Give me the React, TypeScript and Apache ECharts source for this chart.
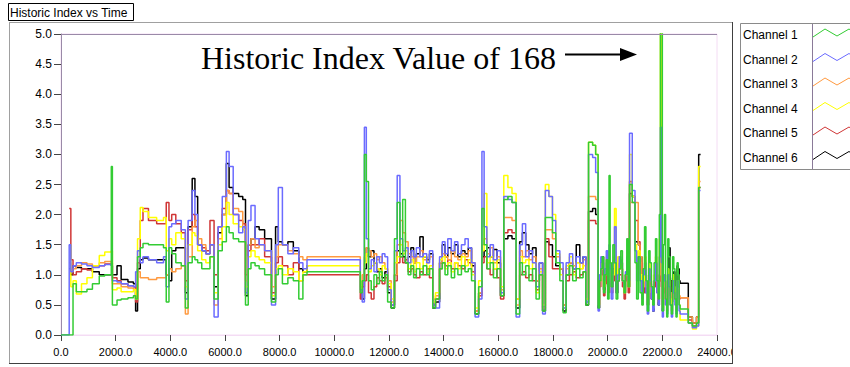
import React, { useEffect, useRef } from "react";
import * as echarts from "echarts";

// time axis (shared by all channels)
const time: number[] = [
  0, 300, 360, 440, 560, 750, 950, 1150, 1400, 1600,
  1840, 1880, 2050, 2200, 2450, 2650, 2730, 2800, 2900, 3000,
  3200, 3500, 3750, 3850, 3950, 4050, 4200, 4400, 4550, 4650,
  4800, 4900, 5000, 5150, 5300, 5450, 5600, 5750, 5900, 6050,
  6150, 6300, 6500, 6650, 6750, 6850, 6950, 7100, 7250, 7450,
  7700, 7850, 7950, 8100, 8300, 8500, 8700, 8850, 9000, 9050,
  10950, 11020, 11100, 11170, 11250, 11350, 11450, 11550, 11650, 11750,
  11850, 11950, 12080, 12200, 12300, 12400, 12500, 12600, 12700, 12800,
  12900, 13000, 13130, 13250, 13380, 13480, 13600, 13700, 13850, 13950,
  14050, 14150, 14280, 14400, 14520, 14650, 14780, 14900, 15020, 15150,
  15280, 15400, 15480, 15580, 15700, 15820, 15950, 16080, 16200, 16350,
  16500, 16650, 16780, 16880, 17000, 17120, 17250, 17380, 17500, 17620,
  17720, 17850, 17980, 18100, 18250, 18370, 18480, 18600, 18720, 18850,
  18980, 19100, 19200, 19300, 19450, 19560,
  19650, 19700, 19750, 19800, 19850, 19900, 19950, 20000, 20050, 20090,
  20130, 20190, 20250, 20310, 20370, 20425, 20480, 20540, 20600, 20650,
  20700, 20750, 20800, 20900, 21000, 21060, 21120, 21185, 21250, 21300,
  21350, 21400, 21450, 21500, 21550, 21600, 21650, 21700, 21750, 21800,
  21850, 21890, 21930, 21965, 22000, 22040, 22080, 22120, 22160, 22200,
  22240, 22285, 22330, 22375, 22420, 22460, 22500, 22540, 22580, 22615,
  22650, 22950, 23100, 23250, 23330, 23400,
];

// Channel 1 (green)
const channel1: (number | null)[] = [
  0, 0, 0, 0.85, 0.72, 0.72, 0.76, 0.85, 0.98, 1.0,
  2.8, 0.5, 0.58, 0.6, 0.62, 0.65, 0.6, 1.3, 1.45, 1.52,
  1.5, 1.5, 1.45, 0.55, 1.45, 1.35, 1.2, 1.15, 0.45, 1.2,
  1.3, 1.25, 1.2, 1.1, 1.1, 1.3, 0.6, 1.4, 1.55, 1.8,
  1.7, 1.6, 1.55, 1.55, 0.5, 1.1, 1.2, 1.15, 1.1, 1.0,
  0.55, 1.0, 1.1, 0.85, 0.95, 0.9, 0.6, 1.0, 1.05, 1.05,
  0.7, 0.9, 3.0, 2.55, 0.9, 0.75, 1.0, 0.85, 1.05, 0.9,
  1.0, 0.55, 0.45, 1.6, 2.2, 1.3, 2.25, 1.2, 1.0, 1.15,
  0.95, 1.1, 1.0, 1.15, 1.0, 1.1, 0.45, 0.6, 1.1, 1.2,
  1.0, 1.15, 0.95, 1.1, 1.0, 1.15, 1.05, 1.1, 0.9, 0.35,
  0.8, 2.1, 1.5, 1.1, 1.2, 0.95, 1.1, 0.65, 2.25, 2.3,
  2.2, 0.35, 1.2, 1.0, 1.15, 0.9, 1.1, 0.6, 1.0, 0.4,
  1.95, 1.95, 1.7, 1.2, 0.9, 0.37, 1.0, 1.15, 0.9, 1.1,
  0.95, 1.05, 0.5, 3.2, 3.15, 3.0,
  0.45, 0.9, 1.1, 1.3, 0.7, 1.0, 1.25, 0.6, 2.65, 1.2,
  0.8, 1.5, 1.2, 0.6, 0.9, 1.1, 1.4, 0.9, 0.7, 1.0,
  1.6, 0.8, 2.5, 2.2, 1.2, 0.6, 1.3, 0.7, 0.5, 1.1,
  1.8, 0.9, 0.4, 1.4, 1.2, 0.8, 0.5, 1.2, 1.6, 0.9,
  0.6, 2.0, 168, 6.5, 0.4, 1.5, 2.0, 0.6, 0.3, 1.6,
  1.3, 0.5, 0.35, 1.3, 1.1, 0.6, 0.3, 1.2, 1.0, 0.5,
  0.43, 0.2, 0.15, 0.2, 2.45, 2.45,
];

// Channel 2 (blue)
const channel2: (number | null)[] = [
  0, 1.5, 1.05, 1.15, 1.2, 1.18, 1.15, 1.12, 1.15, 1.17,
  1.15, 0.9, 0.88, 0.85, 0.82, 0.8, 1.05, 1.4, 1.2, 1.3,
  1.25, 1.2, 1.3, 0.8, 1.8, 1.85, 1.9, 1.75, 0.6, 1.9,
  2.4, 2.0, 1.5, 1.4, 1.35, 1.5, 0.3, 1.8, 2.3, 3.05,
  2.8, 2.0, 1.7, 1.8, 0.7, 1.9, 2.15, 1.6, 1.5, 1.4,
  0.5, 1.5, 2.45, 1.5, 1.35, 1.45, 1.2, 1.1, 1.25, 1.25,
  0.75, 0.55, 3.45, 1.6, 1.1, 1.25, 1.05, 1.3, 1.2, 1.35,
  1.3, 0.75, 0.5, 1.4, 2.65, 1.6, 1.4, 1.45, 1.2, 1.4,
  1.3, 1.45, 1.3, 1.35, 1.2, 1.4, 0.5, 0.45, 1.3, 1.55,
  1.35, 1.6, 1.4, 1.55, 1.35, 1.5, 1.6, 1.45, 1.2, 0.3,
  0.6, 3.05, 1.8, 1.3, 1.5, 1.25, 1.4, 0.7, 2.3, 2.25,
  2.2, 0.3, 1.5, 1.85, 1.3, 1.4, 1.2, 0.8, 1.2, 0.35,
  2.4, 2.3, 1.9, 1.4, 1.2, 0.45, 1.2, 1.35, 1.1, 1.3,
  1.2, 1.3, 0.55, 3.0, 2.95, 2.7,
  0.4, 1.0, 1.3, 1.2, 0.9, 1.1, 1.4, 0.8, 1.5, 1.1,
  0.6, 1.2, 1.8, 0.7, 1.0, 1.3, 1.2, 0.9, 0.8, 1.05,
  1.3, 0.9, 3.35, 2.4, 1.4, 0.9, 1.3, 0.9, 0.6, 1.0,
  1.2, 0.7, 0.35, 1.1, 0.9, 0.6, 0.4, 0.9, 1.2, 0.7,
  0.5, 1.3, 3.45, 1.2, 0.3, 0.9, 1.0, 0.5, 0.35, 1.0,
  0.8, 0.5, 0.3, 0.9, 0.7, 0.5, 0.35, 0.9, 0.8, 0.4,
  0.35, 0.2, 0.12, 0.15, 2.4, 2.4,
];

// Channel 3 (orange)
const channel3: (number | null)[] = [
  null, 1.2, 1.05, 1.1, 1.15, 1.2, 1.18, 1.15, 1.2, 1.22,
  1.2, 0.85, 0.85, 0.8, 0.78, 0.76, 0.6, 1.05, 0.95, 0.95,
  0.92, 0.95, 0.95, 1.0, 1.1, 1.05, 1.1, 1.15, 0.35, 1.3,
  1.8, 1.9, 1.6, 1.5, 1.35, 1.5, 0.5, 1.6, 2.0, 2.4,
  2.35, 2.1, 2.05, 1.8, 0.9, 1.5, 1.6, 1.45, 1.5, 1.4,
  0.8, 1.3, 1.5, 1.5, 1.4, 1.35, 1.3, 1.25, 1.3, 1.3,
  0.8, 1.0, 1.3, 1.45, 1.4, 1.3, 1.35, 1.25, 1.3, 1.2,
  1.1, 0.9, 0.55, 1.0, 1.5, 1.9, 1.7, 1.55, 1.35, 1.3,
  1.2, 1.3, 1.4, 1.25, 1.2, 1.3, 0.6, 0.65, 1.2, 1.35,
  1.3, 1.25, 1.4, 1.3, 1.25, 1.35, 1.3, 1.4, 1.2, 0.4,
  0.7, 1.5, 1.6, 1.35, 1.45, 1.2, 1.3, 0.75, 1.95, 1.95,
  1.9, 0.5, 1.4, 1.3, 1.4, 1.25, 1.3, 0.9, 1.1, 0.45,
  1.75, 1.75, 1.6, 1.3, 1.1, 0.5, 1.1, 1.2, 1.15, 1.2,
  1.1, 1.25, 0.6, 2.3, 2.3, 2.25,
  0.5, 0.9, 1.2, 1.1, 0.8, 1.0, 1.2, 0.9, 1.3, 1.1,
  0.9, 1.0, 1.3, 0.9, 1.1, 1.2, 1.2, 0.9, 0.8, 1.0,
  1.2, 0.9, 2.2, 2.2, 2.2, 2.2, 1.5, 1.3, 1.0, 0.8,
  1.0, 0.8, 0.6, 1.0, 0.9, 0.7, 0.5, 0.9, 1.1, 0.8,
  0.55, 1.0, 1.3, 0.9, 0.5, 0.8, 0.9, 0.6, 0.5, 0.8,
  0.9, 0.7, 0.6, 0.9, 0.8, 0.6, 0.5, 0.85, 0.9, 0.65,
  0.62, 0.3, 0.2, 0.3, 2.55, 2.55,
];

// Channel 4 (yellow)
const channel4: (number | null)[] = [
  null, 1.5, 0.8, 0.9, 0.68, 0.85, 0.95, 1.15, 1.32, 1.38,
  1.4, 0.75, 0.78, 0.72, 0.72, 0.75, 0.6, 1.6, 2.12, 2.05,
  1.95, 1.9, 1.95, 1.4, 1.6, 1.5, 1.7, 1.6, 0.8, 1.5,
  1.7, 1.65, 1.4, 1.25, 1.2, 1.3, 0.7, 1.5, 1.8, 2.2,
  2.0, 1.85, 1.8, 1.75, 0.8, 1.3, 1.4, 1.3, 1.25, 1.2,
  0.65, 1.1, 1.15, 1.0, 1.1, 1.05, 0.9, 1.05, 1.15, 1.15,
  0.75, 0.9, 1.2, 1.35, 1.05, 1.15, 1.2, 1.1, 1.0, 1.15,
  1.1, 0.85, 0.6, 1.2, 1.3, 1.5, 1.35, 1.4, 1.1, 1.25,
  1.05, 1.2, 1.1, 1.3, 1.05, 1.15, 0.55, 0.7, 1.25, 1.3,
  1.1, 1.2, 1.05, 1.2, 1.1, 1.3, 1.15, 1.25, 1.0, 0.45,
  0.9, 1.4, 2.35, 1.2, 1.3, 1.1, 1.25, 0.8, 2.65, 2.45,
  2.35, 0.6, 1.3, 1.2, 1.25, 1.1, 1.2, 0.7, 1.05, 0.5,
  2.5, 2.3, 2.0, 1.35, 1.0, 0.45, 1.15, 1.3, 1.0, 1.2,
  1.1, 1.15, 0.6, 3.2, 3.15, 3.0,
  0.5, 0.9, 1.2, 1.1, 0.8, 1.1, 1.3, 0.8, 1.4, 1.2,
  0.75, 1.0, 2.1, 0.9, 1.3, 1.2, 1.1, 0.9, 0.7, 1.0,
  1.3, 0.8, 3.0, 2.3, 1.5, 1.1, 1.4, 1.0, 0.7, 0.9,
  1.3, 0.8, 0.5, 1.2, 1.0, 0.7, 0.45, 1.0, 1.3, 0.9,
  0.6, 1.6, 12, 2.0, 0.45, 1.0, 1.0, 0.6, 0.4, 1.1,
  0.9, 0.6, 0.4, 1.0, 0.8, 0.6, 0.4, 0.9, 0.85, 0.5,
  0.25, 0.2, 0.1, 0.15, 2.8, 2.8,
];

// Channel 5 (red)
const channel5: (number | null)[] = [
  null, 2.1, 1.25, 1.0, 1.05, 1.1, 1.08, 1.15, 1.15, 1.18,
  1.15, 0.95, 0.9, 0.85, 0.82, 0.8, 0.55, 1.2, 1.9, 2.1,
  1.9, 1.85, 1.85, 2.2, 1.9, 2.0, 1.85, 1.7, 0.9, 1.75,
  2.0, 1.8, 1.5, 1.45, 1.4, 1.9, 1.0, 1.8, 2.1, 2.4,
  2.35, 2.0, 1.9, 1.85, 1.0, 1.4, 1.5, 1.5, 1.6, 1.3,
  0.7, 1.2, 1.3, 1.15, 1.0, 1.2, 0.9, 1.0, 1.0, 1.0,
  0.6, 0.8, 0.9, 1.0, 0.7, 0.6, 0.8, 0.95, 0.9, 0.85,
  0.95, 0.8, 0.5, 0.9, 1.2, 1.3, 1.2, 1.25, 1.05, 1.1,
  1.0, 0.95, 1.05, 1.0, 1.1, 0.95, 0.5, 0.6, 1.1, 1.2,
  1.15, 1.25, 1.1, 1.2, 1.15, 1.1, 1.25, 1.2, 1.05, 0.4,
  0.65, 1.2, 1.3, 1.1, 1.0, 1.1, 0.95, 0.6, 1.7, 1.75,
  1.7, 0.6, 1.0, 1.05, 0.95, 1.0, 0.9, 0.75, 1.0, 0.4,
  1.6, 1.3, 1.1, 1.1, 1.1, 0.5, 0.9, 1.0, 1.05, 0.95,
  1.0, 1.05, 0.6, 1.9, 1.9, 1.85,
  0.45, 0.8, 1.1, 1.0, 0.65, 0.85, 1.0, 0.7, 1.1, 1.0,
  0.7, 0.9, 1.2, 0.7, 0.9, 1.0, 1.0, 0.8, 0.6, 0.9,
  1.0, 0.7, 2.55, 2.3, 1.9, 1.9, 1.55, 1.2, 0.9, 0.7,
  0.8, 0.7, 0.6, 0.9, 0.8, 0.6, 0.5, 0.8, 0.9, 0.7,
  0.6, 0.9, 1.0, 0.8, 0.5, 0.7, 0.8, 0.6, 0.5, 0.7,
  0.8, 0.65, 0.6, 0.8, 0.7, 0.6, 0.5, 0.7, 0.75, 0.6,
  0.62, 0.25, 0.15, 0.2, 2.45, 2.45,
];

// Channel 6 (black)
const channel6: (number | null)[] = [
  null, 1.1, 1.0, 1.15, 1.12, 1.1, 1.1, 1.05, 1.0, 1.0,
  1.0, 1.0, 1.15, 0.92, 0.88, 0.85, 0.4, 1.1, 1.25, 1.28,
  1.25, 1.25, 1.25, 1.0, 0.9, 1.4, 1.45, 1.45, 0.7, 1.8,
  2.6, 2.3, 1.5, 1.4, 1.35, 1.5, 0.8, 1.7, 2.0, 2.85,
  2.45, 2.35, 2.3, 2.25, 0.65, 1.5, 1.6, 1.8, 1.75, 1.6,
  0.6, 1.8, 1.55, 1.5, 1.55, 1.4, 1.1, 1.05, 1.15, null,
  0.7, 0.6, 1.1, 1.45, 1.3, 1.4, 1.2, 1.05, 1.1, 0.95,
  1.05, 0.7, 0.45, 1.0, 1.4, 1.35, 1.3, 1.2, 1.3, 1.45,
  1.2, 1.35, 1.63, 1.3, 1.25, 1.35, 0.45, 0.55, 1.2, 1.5,
  1.3, 1.45, 1.35, 1.5, 1.3, 1.4, 1.35, 1.45, 1.15, 0.35,
  0.7, 1.3, 1.4, 1.45, 1.3, 1.42, 1.2, 0.65, 1.6, 1.65,
  1.6, 0.45, 1.55, 1.7, 1.5, 1.35, 1.45, 0.9, 1.2, 0.4,
  1.55, 1.5, 1.3, 1.15, 1.1, 0.4, 1.0, 1.2, 1.1, 1.5,
  1.2, 1.3, 0.5, 2.05, 2.1, 2.0,
  0.45, 0.9, 1.2, 1.3, 0.75, 0.9, 1.1, 0.8, 1.2, 1.0,
  0.8, 1.1, 1.3, 0.7, 0.9, 1.25, 1.1, 0.9, 0.7, 1.0,
  1.2, 0.8, 2.35, 2.3, 1.55, 1.55, 1.5, 1.3, 1.0, 0.8,
  0.9, 0.7, 0.5, 1.0, 0.85, 0.6, 0.4, 0.9, 1.0, 0.8,
  0.5, 1.0, 1.1, 0.9, 0.4, 0.8, 0.9, 0.6, 0.5, 1.1,
  1.45, 0.9, 0.55, 0.95, 1.05, 0.7, 0.6, 1.15, 1.1, 0.9,
  0.86, 0.3, 0.2, 0.3, 3.0, 3.0,
];

const channelNames = ["Channel 1", "Channel 2", "Channel 3", "Channel 4", "Channel 5", "Channel 6"];
const channelColors = ["#33cc33", "#6b6bff", "#ff9a40", "#ffff00", "#d03636", "#000000"];
const channelData = [channel1, channel2, channel3, channel4, channel5, channel6];
// drawing order (last is on top)
const drawOrder = [5, 4, 2, 3, 1, 0];

const xTickInterval = 2000;
const xMax = 24000;
const yMax = 5;
const yTickInterval = 0.5;
const chartTitle = "Historic Index vs Time";
const annotation = "Historic Index Value of 168";

export default function App() {
  const ref = useRef<HTMLDivElement>(null);
  useEffect(() => {
    const chart = echarts.init(ref.current!, null, { renderer: "svg" });
    const pair = (arr: (number | null)[]) =>
      time.map((t, i) => [t, arr[i] === null ? "-" : arr[i]]);

    const series = drawOrder.map((ci) => ({
      type: "line",
      name: channelNames[ci],
      data: pair(channelData[ci]),
      step: "end",
      symbol: "none",
      showSymbol: false,
      connectNulls: false,
      clip: true,
      lineStyle: { width: 1.5, color: channelColors[ci] },
      itemStyle: { color: channelColors[ci] },
      emphasis: { disabled: true },
    }));

    const legendEls: any[] = [];
    channelNames.forEach((nm, i) => {
      const cy = 35 + i * 24.5;
      legendEls.push({
        type: "text",
        x: 743,
        y: cy,
        z: 110,
        style: { text: nm, font: "12px 'Liberation Sans', Arial", fill: "#000", verticalAlign: "middle" },
      });
      legendEls.push({
        type: "polyline",
        z: 110,
        shape: { points: [[813, cy + 2], [825, cy - 6], [837, cy + 1], [849, cy - 6], [852, cy - 4]] },
        style: { stroke: channelColors[i], lineWidth: 1, fill: null },
      });
    });

    chart.setOption({
      animation: false,
      backgroundColor: "#ffffff",
      grid: {
        left: 61,
        top: 34,
        width: 656,
        height: 301,
        show: true,
        borderColor: "#f4dcf4",
        borderWidth: 1,
        containLabel: false,
      },
      xAxis: {
        type: "value",
        min: 0,
        max: xMax,
        interval: xTickInterval,
        axisLine: { show: true, lineStyle: { color: "#f4dcf4", width: 1 } },
        axisTick: { show: true, length: 6, lineStyle: { color: "#444" } },
        axisLabel: {
          formatter: (v: number) => v.toFixed(1),
          fontSize: 11,
          color: "#000",
          margin: 11,
          fontFamily: "'Liberation Sans', Arial",
        },
        splitLine: { show: false },
      },
      yAxis: {
        type: "value",
        min: 0,
        max: yMax,
        interval: yTickInterval,
        axisLine: { show: true, lineStyle: { color: "#9a8aa8", width: 1 } },
        axisTick: { show: true, length: 7, lineStyle: { color: "#444" } },
        axisLabel: {
          formatter: (v: number) => v.toFixed(1),
          fontSize: 12,
          color: "#000",
          margin: 9,
          fontFamily: "'Liberation Sans', Arial",
        },
        splitLine: { show: false },
      },
      series,
      graphic: {
        elements: [
          // plot top border
          { type: "line", z: 100, shape: { x1: 61, y1: 34.5, x2: 717, y2: 34.5 }, style: { stroke: "#9a8aa8", lineWidth: 1 } },
          // mask right of panel (clips last label)
          { type: "rect", z: 100, shape: { x: 733, y: 338, width: 6, height: 28 }, style: { fill: "#fff" } },
          // panel frame
          { type: "line", z: 101, shape: { x1: 9, y1: 22.5, x2: 732, y2: 22.5 }, style: { stroke: "#a0a0a0", lineWidth: 1 } },
          { type: "line", z: 101, shape: { x1: 9.5, y1: 22, x2: 9.5, y2: 363 }, style: { stroke: "#a0a0a0", lineWidth: 1 } },
          { type: "line", z: 101, shape: { x1: 9, y1: 363.5, x2: 733, y2: 363.5 }, style: { stroke: "#404040", lineWidth: 1 } },
          { type: "line", z: 101, shape: { x1: 732.5, y1: 22, x2: 732.5, y2: 364 }, style: { stroke: "#404040", lineWidth: 1 } },
          // title box
          { type: "rect", z: 102, shape: { x: 8.5, y: 3.5, width: 125, height: 17 }, style: { fill: "#fff", stroke: "#000", lineWidth: 1 } },
          {
            type: "text",
            z: 103,
            x: 10,
            y: 12.5,
            style: { text: chartTitle, font: "12px 'Liberation Sans', Arial", fill: "#000", verticalAlign: "middle" },
          },
          // legend box
          { type: "rect", z: 105, shape: { x: 740.5, y: 23.5, width: 120, height: 146 }, style: { fill: "#fff", stroke: "#8a8a8a", lineWidth: 1 } },
          { type: "line", z: 106, shape: { x1: 812.5, y1: 24, x2: 812.5, y2: 169 }, style: { stroke: "#8a7a98", lineWidth: 1 } },
          ...legendEls,
          // annotation
          {
            type: "text",
            z: 120,
            x: 201,
            y: 58,
            style: { text: annotation, font: "32px 'Liberation Serif', 'Times New Roman', serif", fill: "#000", verticalAlign: "middle" },
          },
          { type: "line", z: 120, shape: { x1: 565, y1: 54.5, x2: 624, y2: 54.5 }, style: { stroke: "#000", lineWidth: 2 } },
          { type: "polygon", z: 120, shape: { points: [[620, 48], [637, 54.5], [620, 61]] }, style: { fill: "#000" } },
        ],
      },
    });
    return () => chart.dispose();
  }, []);
  return (
    <div
      ref={ref}
      style={{ position: "fixed", left: 0, top: 0, width: 850, height: 367, background: "#fff" }}
    />
  );
}
